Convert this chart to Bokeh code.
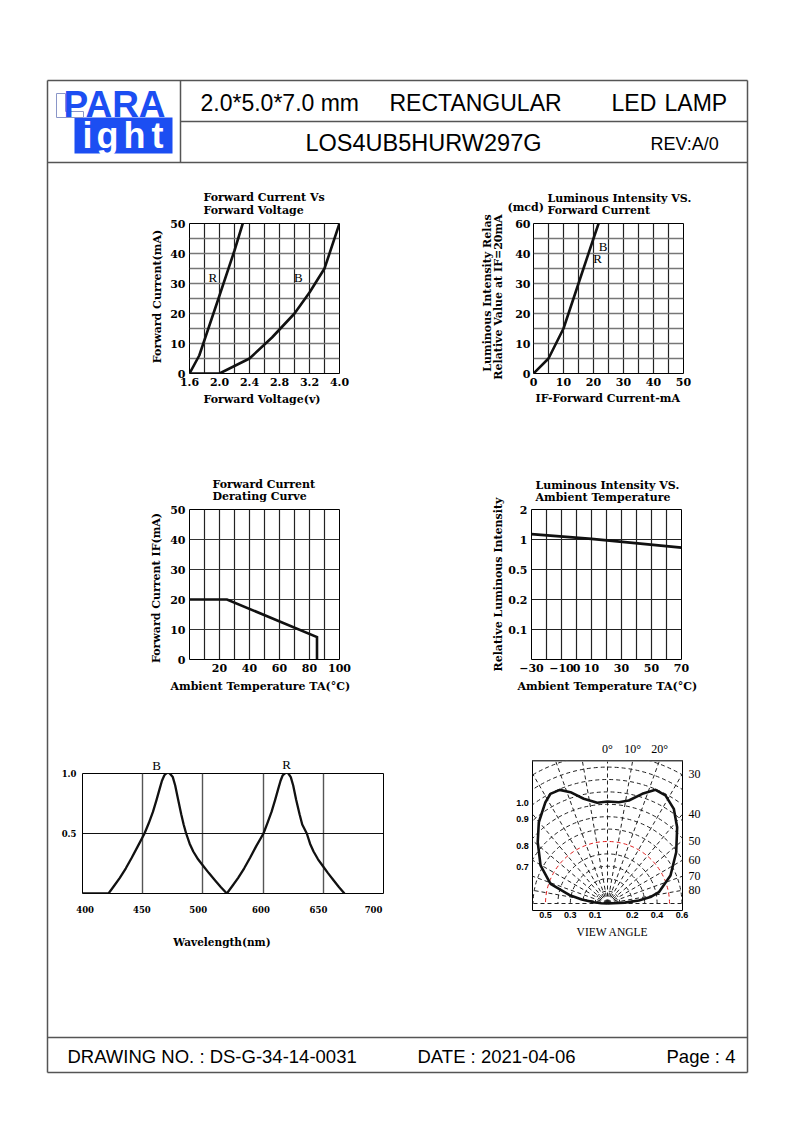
import numpy as np
from bokeh.plotting import figure
from bokeh.models import Range1d, FixedTicker, GridBox, Span, LinearAxis
from bokeh.core.properties import value
from bokeh.embed import file_html
from bokeh.resources import INLINE

# ====================== DATA ======================
# 1) Forward current vs forward voltage (grid every 0.2 V; right-most label is printed "4.0")
fv_volt_ticks = [1.6, 2.0, 2.4, 2.8, 3.2, 3.6]
fv_volt_labels = ["1.6", "2.0", "2.4", "2.8", "3.2", "4.0"]
fv_volt_grid = [1.6, 1.8, 2.0, 2.2, 2.4, 2.6, 2.8, 3.0, 3.2, 3.4, 3.6]
fv_ma_ticks = [0, 10, 20, 30, 40, 50]
fv_ma_grid = [0, 5, 10, 15, 20, 25, 30, 35, 40, 45, 50]
fv_r_volt = [1.6, 1.73, 2.0, 2.2, 2.31]
fv_r_ma = [0, 6, 26, 41, 50]
fv_b_volt = [1.6, 2.0, 2.4, 2.7, 3.0, 3.2, 3.4, 3.6]
fv_b_ma = [0, 0, 5, 12, 20, 27, 35, 50]

# 2) Luminous intensity vs forward current (top label printed "60")
li_if_ticks = [0, 10, 20, 30, 40, 50]
li_if_grid = [0, 5, 10, 15, 20, 25, 30, 35, 40, 45, 50]
li_val_ticks = [0, 10, 20, 30, 40, 50]
li_val_labels = ["0", "10", "20", "30", "40", "60"]
li_val_grid = [0, 5, 10, 15, 20, 25, 30, 35, 40, 45, 50]
li_if = [0, 5, 10, 15, 20, 21.7]
li_val = [0, 5, 15, 30, 45, 50]

# 3) Forward current derating curve
dr_temp_ticks = [20, 40, 60, 80, 100]
dr_temp_grid = [0, 10, 20, 30, 40, 50, 60, 70, 80, 90, 100]
dr_ma_ticks = [0, 10, 20, 30, 40, 50]
dr_temp = [0, 25, 85, 85]
dr_ma = [20, 20, 7.5, 0]

# 4) Luminous intensity vs ambient temperature (equally spaced intensity levels)
lt_temp_ticks = [-30, -10, 0, 10, 30, 50, 70]
lt_temp_grid = [-30, -20, -10, 0, 10, 20, 30, 40, 50, 60, 70]
lt_level_ticks = [1, 2, 3, 4, 5]
lt_level_labels = ["0.1", "0.2", "0.5", "1", "2"]
lt_temp = [-30, 10, 70]
lt_level = [4.18, 4.02, 3.73]

# 5) Spectrum (nominal wavelength scale of the drawing)
sp_label_pos = [402.2, 449.3, 496.1, 548.2, 596.0, 641.7]
sp_labels = ["400", "450", "500", "600", "650", "700"]
sp_grid = [450, 500, 550, 600]
sp_b_wl = [400, 421.6, 426, 431, 436, 441, 446, 451.5, 455, 458.5, 461.5, 464, 466, 468, 469.5, 471, 472.5,
           475, 477, 479.5, 482, 484, 486.1, 489, 492, 496, 500, 505, 510, 515, 519.9]
sp_b_rel = [0, 0, 0.06, 0.13, 0.21, 0.3, 0.395, 0.5, 0.585, 0.68, 0.78, 0.87, 0.94, 0.985, 1.0, 1.01, 1.0,
            0.97, 0.9, 0.78, 0.66, 0.575, 0.5, 0.415, 0.35, 0.285, 0.233, 0.17, 0.11, 0.052, 0]
sp_r_wl = [519.9, 524.3, 529.3, 534.3, 539.3, 544.3, 550.3, 553.5, 557, 560, 562.5, 564.5, 566.3, 568, 569.5, 571,
           573, 575, 577.5, 580.3, 582.5, 586.3, 589, 591.9, 595.6, 599.3, 603.9, 608.5, 613.1, 617.6]
sp_r_rel = [0, 0.06, 0.13, 0.21, 0.3, 0.395, 0.5, 0.585, 0.68, 0.78, 0.87, 0.94, 0.985, 1.0, 1.01, 1.0,
            0.97, 0.9, 0.78, 0.66, 0.575, 0.5, 0.415, 0.35, 0.285, 0.233, 0.17, 0.11, 0.052, 0]

# 6) Radiation pattern (angle in degrees, relative intensity)
rp_angle = [-90, -87, -84.6, -81, -77.8, -70.9, -60.4, -48.7, -40.2, -31.5, -27.5, -22.8, -18.4, -12.8, -5.8, 0,
            6.4, 11.7, 17.6, 22.9, 28.2, 35, 42.4, 53.3, 66, 77.6, 81.5, 84.5, 87, 90]
rp_rel = [0, 0.05, 0.111, 0.21, 0.305, 0.486, 0.621, 0.749, 0.858, 0.958, 0.997, 0.994, 0.946, 0.866, 0.816, 0.823,
          0.822, 0.848, 0.928, 0.995, 0.989, 0.932, 0.833, 0.691, 0.556, 0.424, 0.35, 0.254, 0.14, 0]
rp_grid_angles = list(range(-90, 91, 10))
rp_grid_radii = [0.1, 0.2, 0.3, 0.4, 0.6, 0.7, 0.8, 0.9, 1.0, 1.1, 1.2, 1.3]
rp_red_radius = [0.5]
rp_top_angles = [0, 10, 20]
rp_side_angles = [30, 40, 50, 60, 70, 80]
rp_bottom_ticks = [-0.5, -0.3, -0.1, 0.2, 0.4, 0.6]
rp_bottom_labels = ["0.5", "0.3", "0.1", "0.2", "0.4", "0.6"]

# ====================== STYLE ======================
SERIF = "DejaVu Serif"
SANS = "Liberation Sans"
BLUE = "#1c4ef2"
FRAME_C = "#555555"
CURVE_C = "#111111"

PW, PH = 786, 1115
page = figure(width=PW, height=PH, x_range=Range1d(0, PW), y_range=Range1d(PH, 0),
              output_backend="svg", toolbar_location=None, min_border=0,
              x_axis_type=None, y_axis_type=None, title=None)
page.frame_align = False
page.outline_line_color = None
page.background_fill_color = "white"
page.border_fill_color = "white"


def txt(x, y, s, size, font=SERIF, style="bold", align="left", baseline="middle", angle=0.0, color="black"):
    page.text(x=[x], y=[y], text=[s], text_font=value(font), text_font_size=size,
              text_font_style=style, text_align=align, text_baseline=baseline,
              angle=angle, text_color=color)


# page frame
fx0 = [47, 47, 47, 747, 180, 180, 47, 47]
fy0 = [80, 1072, 80, 80, 80, 121, 162, 1037]
fx1 = [747, 747, 47, 747, 180, 747, 747, 747]
fy1 = [80, 1072, 1072, 1072, 162, 121, 162, 1037]
page.segment(x0=fx0, y0=fy0, x1=fx1, y1=fy1, line_color=FRAME_C, line_width=1.5)

# logo
page.quad(left=[74], right=[172], top=[117], bottom=[153], fill_color=BLUE, line_color=None)
page.patch(x=[56, 65, 65, 83, 83, 56], y=[93, 93, 111, 111, 117, 117], fill_color="white",
           line_color="#8a96c8", line_width=1)
txt(63, 104, "PARA", "37px", font=SANS, color=BLUE)
for lx, ch in zip([82, 96, 123, 151], ["i", "g", "h", "t"]):
    txt(lx, 134.5, ch, "36px", font=SANS, color="white")

# header text
txt(200, 102, "2.0*5.0*7.0 mm", "23px", font=SANS, style="normal")
txt(389, 102, "RECTANGULAR", "23px", font=SANS, style="normal")
txt(611, 102, "LED", "23px", font=SANS, style="normal")
txt(664, 102, "LAMP", "23px", font=SANS, style="normal")
txt(423, 142, "LOS4UB5HURW297G", "23.5px", font=SANS, style="normal", align="center")
txt(650, 143, "REV:A/0", "18px", font=SANS, style="normal")

# footer
txt(67, 1056, "DRAWING NO. : DS-G-34-14-0031", "18.5px", font=SANS, style="normal")
txt(417, 1056, "DATE : 2021-04-06", "18.5px", font=SANS, style="normal")
txt(666, 1056, "Page : 4", "18.5px", font=SANS, style="normal")

# chart titles / labels
V = np.pi / 2
txt(203, 197, "Forward Current Vs", "11px")
txt(203, 209.5, "Forward Voltage", "11px")
txt(203, 398.5, "Forward Voltage(v)", "11px")
txt(157, 296, "Forward Current(mA)", "11px", align="center", angle=V)

txt(547, 197.5, "Luminous Intensity VS.", "11px")
txt(547, 209.5, "Forward Current", "11px")
txt(507, 207, "(mcd)", "11px")
txt(487, 292.5, "Luminous Intensity Relas", "11px", align="center", angle=V)
txt(498, 296.5, "Relative Value at IF=20mA", "11px", align="center", angle=V)
txt(535, 397.5, "IF-Forward Current-mA", "11px")

txt(212, 483.5, "Forward Current", "11px")
txt(212, 495.5, "Derating Curve", "11px")
txt(156, 587.5, "Forward Current IF(mA)", "11px", align="center", angle=V)
txt(170, 686, "Ambient Temperature TA(°C)", "11px")

txt(535, 485, "Luminous Intensity VS.", "11px")
txt(535, 497, "Ambient Temperature", "11px")
txt(498, 584, "Relative Luminous Intensity", "11px", align="center", angle=V)
txt(517, 686, "Ambient Temperature TA(°C)", "11px")

txt(156, 765, "B", "13px", font="Liberation Serif", style="normal", align="center")
txt(286, 763.5, "R", "13px", font="Liberation Serif", style="normal", align="center")
txt(221.5, 941.5, "Wavelength(nm)", "10.5px", align="center")

for ly, lab in zip([802, 818, 845, 866], ["1.0", "0.9", "0.8", "0.7"]):
    txt(522, ly, lab, "9px", font=SANS, align="center")
txt(612, 931, "VIEW ANGLE", "11.5px", font="Liberation Serif", style="normal", align="center")


def style_axis(ax, size="11px", font=SERIF, fstyle="bold", standoff=4):
    ax.axis_line_color = None
    ax.major_tick_line_color = None
    ax.minor_tick_line_color = None
    ax.major_tick_out = 0
    ax.major_tick_in = 0
    ax.minor_tick_out = 0
    ax.major_label_text_font = font
    ax.major_label_text_font_size = size
    ax.major_label_text_font_style = fstyle
    ax.major_label_text_color = "black"
    ax.major_label_standoff = standoff


def chart(frame, xr, yr, L=40, R=16, T=10, B=26, **kw):
    x0, y0, x1, y1 = frame
    p = figure(width=int(x1 - x0 + L + R), height=int(y1 - y0 + T + B),
               x_range=Range1d(*xr), y_range=Range1d(*yr),
               output_backend="svg", toolbar_location=None, title=None,
               min_border_left=L, min_border_right=R, min_border_top=T, min_border_bottom=B, **kw)
    p.frame_align = False
    p.margin = (int(y0 - T), 0, 0, int(x0 - L))
    p.border_fill_color = None
    p.border_fill_alpha = 0
    p.background_fill_color = "white"
    p.outline_line_color = "black"
    p.outline_line_width = 1
    return p


def grids(p, xg, yg, xc="#222222", yc="#777777", xw=1.2, yw=1.3):
    p.xgrid.ticker = FixedTicker(ticks=xg)
    p.ygrid.ticker = FixedTicker(ticks=yg)
    p.xgrid.grid_line_color = xc
    p.xgrid.grid_line_width = xw
    p.xgrid.grid_line_alpha = 1
    p.ygrid.grid_line_color = yc
    p.ygrid.grid_line_width = yw
    p.ygrid.grid_line_alpha = 1


def lab(p, x, y, s):
    p.text(x=[x], y=[y], text=[s], text_font=value("Liberation Serif"), text_font_size="13px",
           text_align="center", text_baseline="middle")


# ---- chart 1
c1 = chart((189, 223, 339, 373), (1.6, 3.6), (0, 50))
grids(c1, fv_volt_grid, fv_ma_grid)
for ax in c1.axis:
    style_axis(ax)
c1.xaxis.ticker = FixedTicker(ticks=fv_volt_ticks)
c1.xaxis.major_label_overrides = dict(zip(fv_volt_ticks, fv_volt_labels))
c1.yaxis.ticker = FixedTicker(ticks=fv_ma_ticks)
c1.line(fv_r_volt, fv_r_ma, line_color=CURVE_C, line_width=2.6, line_join="round")
c1.line(fv_b_volt, fv_b_ma, line_color=CURVE_C, line_width=2.6, line_join="round")
lab(c1, 1.91, 32, "R")
lab(c1, 3.05, 32, "B")

# ---- chart 2
c2 = chart((533, 223, 683, 373), (0, 50), (0, 50))
grids(c2, li_if_grid, li_val_grid)
for ax in c2.axis:
    style_axis(ax)
c2.yaxis.major_label_standoff = 3
c2.xaxis.ticker = FixedTicker(ticks=li_if_ticks)
c2.yaxis.ticker = FixedTicker(ticks=li_val_ticks)
c2.yaxis.major_label_overrides = dict(zip(li_val_ticks, li_val_labels))
c2.line(li_if, li_val, line_color=CURVE_C, line_width=2.6, line_join="round")
lab(c2, 23.2, 42.5, "B")
lab(c2, 21.4, 38.5, "R")

# ---- chart 3
c3 = chart((189, 509, 339, 659), (0, 100), (0, 50))
grids(c3, dr_temp_grid, dr_ma_ticks, yc="#333333", yw=1.2)
for ax in c3.axis:
    style_axis(ax)
c3.xaxis.ticker = FixedTicker(ticks=dr_temp_ticks)
c3.yaxis.ticker = FixedTicker(ticks=dr_ma_ticks)
c3.line(dr_temp, dr_ma, line_color=CURVE_C, line_width=2.6, line_join="miter")

# ---- chart 4
c4 = chart((531, 509, 681, 659), (-30, 70), (0, 5))
grids(c4, lt_temp_grid, lt_level_ticks[:-1], yc="#222222", yw=1.2)
for ax in c4.axis:
    style_axis(ax)
c4.xaxis.ticker = FixedTicker(ticks=lt_temp_ticks)
c4.yaxis.ticker = FixedTicker(ticks=lt_level_ticks)
c4.yaxis.major_label_overrides = dict(zip(lt_level_ticks, lt_level_labels))
c4.line(lt_temp, lt_level, line_color=CURVE_C, line_width=2.6)

# ---- chart 5 spectrum
c5 = chart((82, 773, 383, 893), (400, 650), (0, 1.0), L=40, R=14, T=10, B=30)
grids(c5, sp_grid, [0.5], xc="#555555", yc="#111111", xw=1.4, yw=1.0)
for ax in c5.axis:
    style_axis(ax, size="8.5px")
c5.xaxis.major_label_standoff = 12
c5.yaxis.major_label_standoff = 6
c5.xaxis.ticker = FixedTicker(ticks=sp_label_pos)
c5.xaxis.major_label_overrides = dict(zip(sp_label_pos, sp_labels))
c5.yaxis.ticker = FixedTicker(ticks=[0.5, 1.0])
c5.yaxis.major_label_overrides = {0.5: "0.5", 1.0: "1.0"}
c5.line(sp_b_wl, sp_b_rel, line_color=CURVE_C, line_width=2.3, line_join="round")
c5.line(sp_r_wl, sp_r_rel, line_color=CURVE_C, line_width=2.3, line_join="round")

# ---- chart 6 radiation pattern
P_SCALE = 124.0
pcx, pcy = 607, 903
pf = (532, 760, 682, 910)
pxr = ((pf[0] - pcx) / P_SCALE, (pf[2] - pcx) / P_SCALE)
pyr = ((pcy - pf[3]) / P_SCALE, (pcy - pf[1]) / P_SCALE)
c6 = chart(pf, pxr, pyr, L=8, R=26, T=24, B=18, y_axis_location="right")
c6.grid.visible = False
top_ax = LinearAxis()
c6.add_layout(top_ax, "above")
bottom_ax = c6.below[0]
right_ax = c6.right[0]
style_axis(top_ax, size="12px", font="Liberation Serif", fstyle="normal", standoff=5)
style_axis(right_ax, size="12px", font="Liberation Serif", fstyle="normal", standoff=6)
style_axis(bottom_ax, size="9px", font=SANS, fstyle="bold", standoff=1)
bottom_ax.ticker = FixedTicker(ticks=rp_bottom_ticks)
bottom_ax.major_label_overrides = dict(zip(rp_bottom_ticks, rp_bottom_labels))
top_pos = [float(pyr[1] * np.tan(np.radians(a))) for a in rp_top_angles]
top_ax.ticker = FixedTicker(ticks=top_pos)
top_ax.major_label_overrides = dict(zip(top_pos, [f"{a}°" for a in rp_top_angles]))
side_pos = [float(pxr[1] / np.tan(np.radians(a))) for a in rp_side_angles]
right_ax.ticker = FixedTicker(ticks=side_pos)
right_ax.major_label_overrides = dict(zip(side_pos, [str(a) for a in rp_side_angles]))

ga = np.radians(90 - np.array(rp_grid_angles, dtype=float))
c6.ray(x=[0] * len(ga), y=[0] * len(ga), length=0, angle=list(ga),
       line_color="#222222", line_width=1, line_dash="4 3")
c6.arc(x=[0] * len(rp_grid_radii), y=[0] * len(rp_grid_radii), radius=rp_grid_radii,
       start_angle=0, end_angle=np.pi, line_color="#222222", line_width=1, line_dash="4 3")
c6.arc(x=[0], y=[0], radius=rp_red_radius, start_angle=0, end_angle=np.pi,
       line_color="#e02020", line_width=1, line_dash="4 3")
th = np.radians(np.array(rp_angle, dtype=float))
rr = np.array(rp_rel, dtype=float)
c6.line(list(rr * np.sin(th)), list(rr * np.cos(th)), line_color=CURVE_C, line_width=2.6,
        line_join="round")
c6.add_layout(Span(location=pyr[1], dimension="width", line_color="#888888", line_width=2.5))

layout = GridBox(children=[(page, 0, 0), (c1, 0, 0), (c2, 0, 0), (c3, 0, 0), (c4, 0, 0),
                           (c5, 0, 0), (c6, 0, 0)])

open("out.html", "w").write(file_html(layout, INLINE))
